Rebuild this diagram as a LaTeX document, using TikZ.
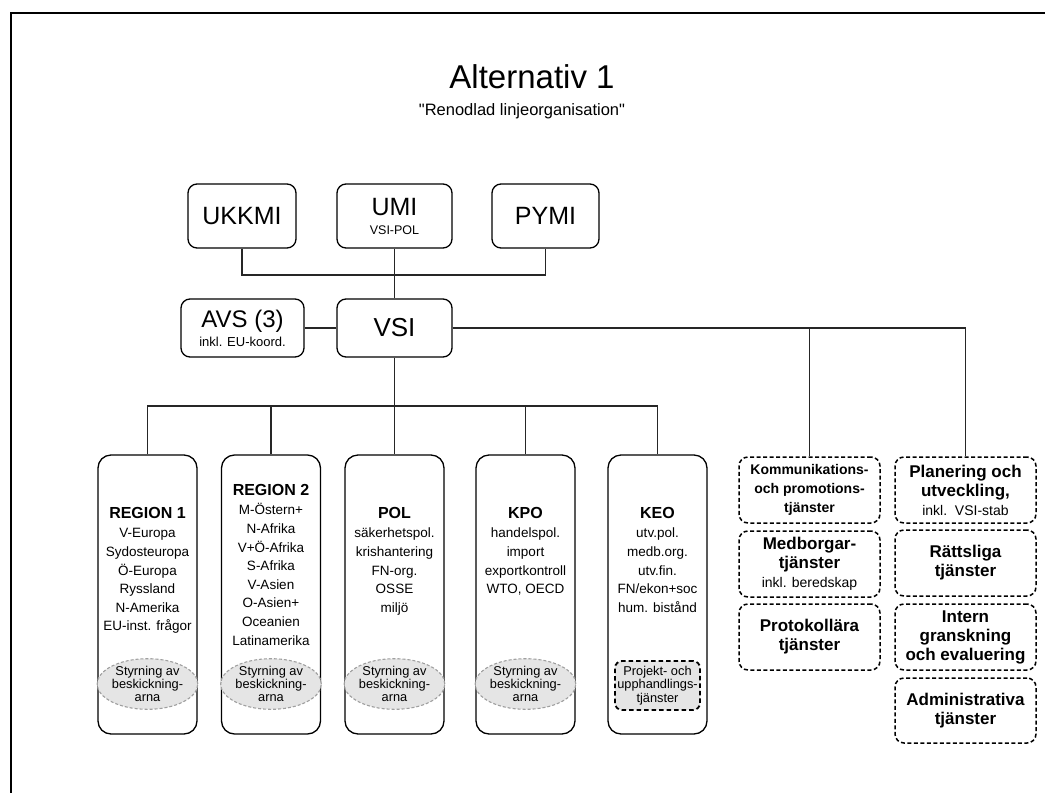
\documentclass[tikz,border=0pt]{standalone}
\usepackage{fontspec}
\setmainfont{Liberation Sans}[Ligatures=TeXOff]
\usetikzlibrary{shapes.geometric}
\newcommand{\myfs}[2]{\fontsize{#1}{#2}\selectfont}
\begin{document}
\begin{tikzpicture}[x=1pt,y=-1pt,
  solidbox/.style={draw=black, line width=1.3pt, rounded corners=9pt, align=center, inner sep=0pt},
  colbox/.style={draw=black, line width=1.3pt, rounded corners=13pt, minimum width=99pt, minimum height=279pt, inner sep=0pt},
  coltext/.style={anchor=north, align=center, font=\myfs{13.5}{18.6}, inner sep=0pt},
  steer/.style={ellipse, draw=gray!75, dash pattern=on 3pt off 2pt, fill=gray!20, line width=1.1pt, minimum width=99pt, minimum height=47pt, inner sep=0pt, align=center, font=\myfs{12.8}{13.2}},
  svcbox/.style={draw=black, line width=1.5pt, dash pattern=on 4pt off 2.5pt, rounded corners=9pt, minimum width=141pt, minimum height=66pt, inner sep=0pt, align=center, font=\bfseries\myfs{17}{19}},
  conn/.style={draw=black!85, line width=1.2pt}
]
\useasboundingbox (0,0) rectangle (1045,793);
\draw[line width=2pt] (1045,13) -- (11,13) -- (11,793);

\node[font=\myfs{33}{36}] (title) at (532,77) {Alternativ 1};
\node[font=\myfs{16.5}{18}] (sub) at (522,111) {"Renodlad linjeorganisation"};

\node[solidbox, minimum width=108pt, minimum height=64pt, font=\myfs{25}{26}] (ukkmi) at (242,216) {UKKMI};
\node[solidbox, minimum width=115pt, minimum height=64pt] (umi) at (394.5,216) {\myfs{25}{26}UMI\\[7pt]\myfs{12.5}{14}VSI-POL};
\node[solidbox, minimum width=107pt, minimum height=64pt, font=\myfs{25}{26}] (pymi) at (545.5,216) {PYMI};
\node[solidbox, minimum width=123pt, minimum height=58pt] (avs) at (242.5,328) {\myfs{24}{25}AVS (3)\\[3.5pt]\myfs{13}{14}inkl. EU-koord.};
\node[solidbox, minimum width=115pt, minimum height=58pt, font=\myfs{26}{28}] (vsi) at (394.5,328) {VSI};

\coordinate (bus1) at (394.5,275);
\coordinate (bus2) at (394.5,406);

\node[colbox] (r1) at (147.5,594.5) {};
\node[colbox] (r2) at (271,594.5) {};
\node[colbox] (pol) at (394.5,594.5) {};
\node[colbox] (kpo) at (525.5,594.5) {};
\node[colbox] (keo) at (657.5,594.5) {};

\node[coltext] (r1t) at (147.5,507) {{\bfseries\myfs{16}{18.6}REGION 1}\\[1pt]V-Europa\\Sydosteuropa\\Ö-Europa\\Ryssland\\N-Amerika\\EU-inst. frågor};
\node[coltext] (r2t) at (271,484) {{\bfseries\myfs{16}{18.6}REGION 2}\\[1pt]M-Östern+\\N-Afrika\\V+Ö-Afrika\\S-Afrika\\V-Asien\\O-Asien+\\Oceanien\\Latinamerika};
\node[coltext] (polt) at (394.5,507) {{\bfseries\myfs{16}{18.6}POL}\\[1pt]säkerhetspol.\\krishantering\\FN-org.\\OSSE\\miljö};
\node[coltext] (kpot) at (525.5,507) {{\bfseries\myfs{16}{18.6}KPO}\\[1pt]handelspol.\\import\\exportkontroll\\WTO, OECD};
\node[coltext] (keot) at (657.5,507) {{\bfseries\myfs{16}{18.6}KEO}\\[1pt]utv.pol.\\medb.org.\\utv.fin.\\FN/ekon+soc\\hum. bistånd};

\node[steer] (s1) at (147.5,684) {Styrning av\\beskickning-\\arna};
\node[steer] (s2) at (271,684) {Styrning av\\beskickning-\\arna};
\node[steer] (s3) at (394.5,684) {Styrning av\\beskickning-\\arna};
\node[steer] (s4) at (525.5,684) {Styrning av\\beskickning-\\arna};
\node[draw=black, line width=1.8pt, dash pattern=on 4.5pt off 3pt, rounded corners=7pt, fill=gray!20, minimum width=85pt, minimum height=49pt, inner sep=0pt, align=center, font=\myfs{12.8}{13.2}] (keoproj) at (657.5,685.5) {Projekt- och\\upphandlings-\\tjänster};

\node[svcbox, font=\bfseries\myfs{14}{19}] (komm) at (809.5,490) {Kommunikations-\\och promotions-\\tjänster};
\node[svcbox] (medb) at (809.5,564) {Medborgar-\\tjänster\\{\mdseries\myfs{14}{17}inkl. beredskap}};
\node[svcbox] (proto) at (809.5,637) {Protokollära\\tjänster};
\node[svcbox] (plan) at (965.5,490) {Planering och\\utveckling,\\{\mdseries\myfs{14}{17}inkl.\ \ VSI-stab}};
\node[svcbox] (ratt) at (965.5,563) {Rättsliga\\tjänster};
\node[svcbox] (intern) at (965.5,637) {Intern\\granskning\\och evaluering};
\node[svcbox, minimum height=65pt] (admin) at (965.5,710.5) {Administrativa\\tjänster};

\draw[conn] (ukkmi.south) |- (bus1) -| (pymi.south);
\draw[conn] (umi.south) -- (vsi.north);
\draw[conn] (avs.east) -- (vsi.west);
\draw[conn] (vsi.east) -| (komm.north);
\draw[conn] (vsi.east) -| (plan.north);
\draw[conn] (vsi.south) -- (pol.north);
\draw[conn] (r1.north) |- (bus2) -| (keo.north);
\draw[conn] (r2.north) -- (r2.north |- bus2);
\draw[conn] (kpo.north) -- (kpo.north |- bus2);
\end{tikzpicture}
\end{document}
